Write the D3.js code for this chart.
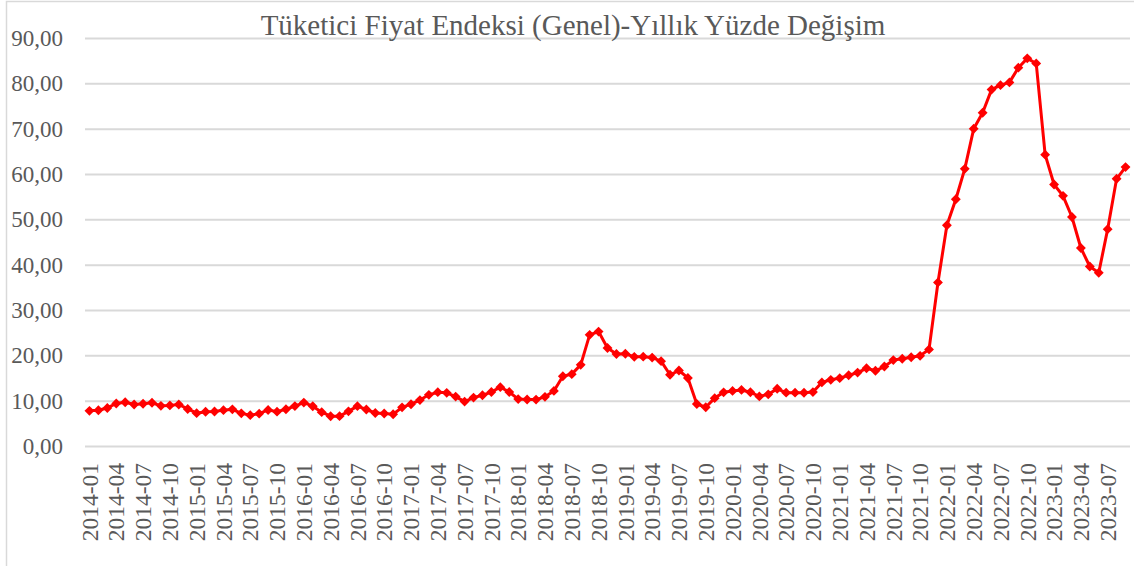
<!DOCTYPE html>
<html><head><meta charset="utf-8">
<script src="https://cdn.jsdelivr.net/npm/d3@7"></script>
<style>
html,body{margin:0;padding:0;background:#fff;}
svg{display:block;font-family:"Liberation Serif","Times New Roman",serif;}
</style></head>
<body><svg id="c" width="1134" height="566"></svg>
<script>
const title = "Tüketici Fiyat Endeksi (Genel)-Yıllık Yüzde Değişim";
const years = [2014,2015,2016,2017,2018,2019,2020,2021,2022,2023];
const values2014 = [7.75,7.89,8.39,9.38,9.66,9.16,9.32,9.54,8.86,8.96,9.15,8.17];
const values2015 = [7.24,7.55,7.61,7.91,8.09,7.20,6.81,7.14,7.95,7.58,8.10,8.81];
const values2016 = [9.58,8.78,7.46,6.57,6.58,7.64,8.79,8.05,7.28,7.16,7.00,8.53];
const values2017 = [9.22,10.13,11.29,11.87,11.72,10.90,9.79,10.68,11.20,11.90,12.98,11.92];
const values2018 = [10.35,10.26,10.23,10.85,12.15,15.39,15.85,17.90,24.52,25.24,21.62,20.30];
const values2019 = [20.35,19.67,19.71,19.50,18.71,15.72,16.65,15.01,9.26,8.55,10.56,11.84];
const values2020 = [12.15,12.37,11.86,10.94,11.39,12.62,11.76,11.77,11.75,11.89,14.03,14.60];
const values2021 = [14.97,15.61,16.19,17.14,16.59,17.53,18.95,19.25,19.58,19.89,21.31,36.08];
const values2022 = [48.69,54.44,61.14,69.97,73.50,78.62,79.60,80.21,83.45,85.51,84.39,64.27];
const values2023 = [57.68,55.18,50.51,43.68,39.59,38.21,47.83,58.94,61.53];
const yTicks = [0,10,20,30,40,50,60,70,80,90];

const allValues = [values2014,values2015,values2016,values2017,values2018,values2019,values2020,values2021,values2022,values2023];
const data = [];
allValues.forEach((arr,i)=>arr.forEach((v,m)=>{
  data.push({label: years[i] + "-" + String(m+1).padStart(2,"0"), value: v});
}));

const svg = d3.select("#c");
const W = 1134, H = 566;
const m = {left:85, right:4, top:38, bottom:120};

// chart border
svg.append("rect").attr("x",6.5).attr("y",1.5).attr("width",1200).attr("height",700)
  .attr("fill","none").attr("stroke","#d9d9d9").attr("stroke-width",1.5);

const x = d3.scaleBand().domain(data.map(d=>d.label)).range([m.left, W-m.right]).paddingInner(0).paddingOuter(0);
const y = d3.scaleLinear().domain([0,90]).range([446, 38]);

const fmt = v => d3.format(".2f")(v).replace(".",",");

// grid
const yAxis = d3.axisLeft(y).tickValues(yTicks).tickSize(-(W-m.right-m.left)).tickFormat(fmt).tickPadding(22);
const gy = svg.append("g").attr("transform",`translate(${m.left},0)`).call(yAxis);
gy.select(".domain").remove();
gy.selectAll(".tick line").attr("stroke","#d9d9d9").attr("stroke-width",2);
gy.selectAll(".tick text").attr("fill","#595959").attr("font-size","23px")
  .attr("font-family","Liberation Serif, Times New Roman, serif");

// x axis labels
const xTicks = data.map(d=>d.label).filter((d,i)=>i%3===0);
const xAxis = d3.axisBottom(x).tickValues(xTicks).tickSize(0).tickPadding(0);
const gx = svg.append("g").attr("transform",`translate(0,446)`).call(xAxis);
gx.select(".domain").remove();
gx.selectAll(".tick text")
  .attr("fill","#595959").attr("font-size","23.5px")
  .attr("font-family","Liberation Serif, Times New Roman, serif")
  .attr("text-anchor","end")
  .attr("transform","translate(0,17) rotate(-90)")
  .attr("x",0).attr("y",0).attr("dy","0.35em");

// title
svg.append("text").attr("x",573).attr("y",35).attr("text-anchor","middle")
  .attr("fill","#595959").attr("font-size","29px").text(title);

// line
const cx = d => x(d.label) + x.bandwidth()/2;
const line = d3.line().x(cx).y(d=>y(d.value));
svg.append("path").datum(data).attr("d",line).attr("fill","none")
  .attr("stroke","#ff0000").attr("stroke-width",3).attr("stroke-linejoin","round");

const sym = d3.symbol().type(d3.symbolDiamond2).size(62);
svg.append("g").selectAll("path").data(data).join("path")
  .attr("d",sym).attr("transform",d=>`translate(${cx(d)},${y(d.value)})`)
  .attr("fill","#ff0000");
</script></body></html>
